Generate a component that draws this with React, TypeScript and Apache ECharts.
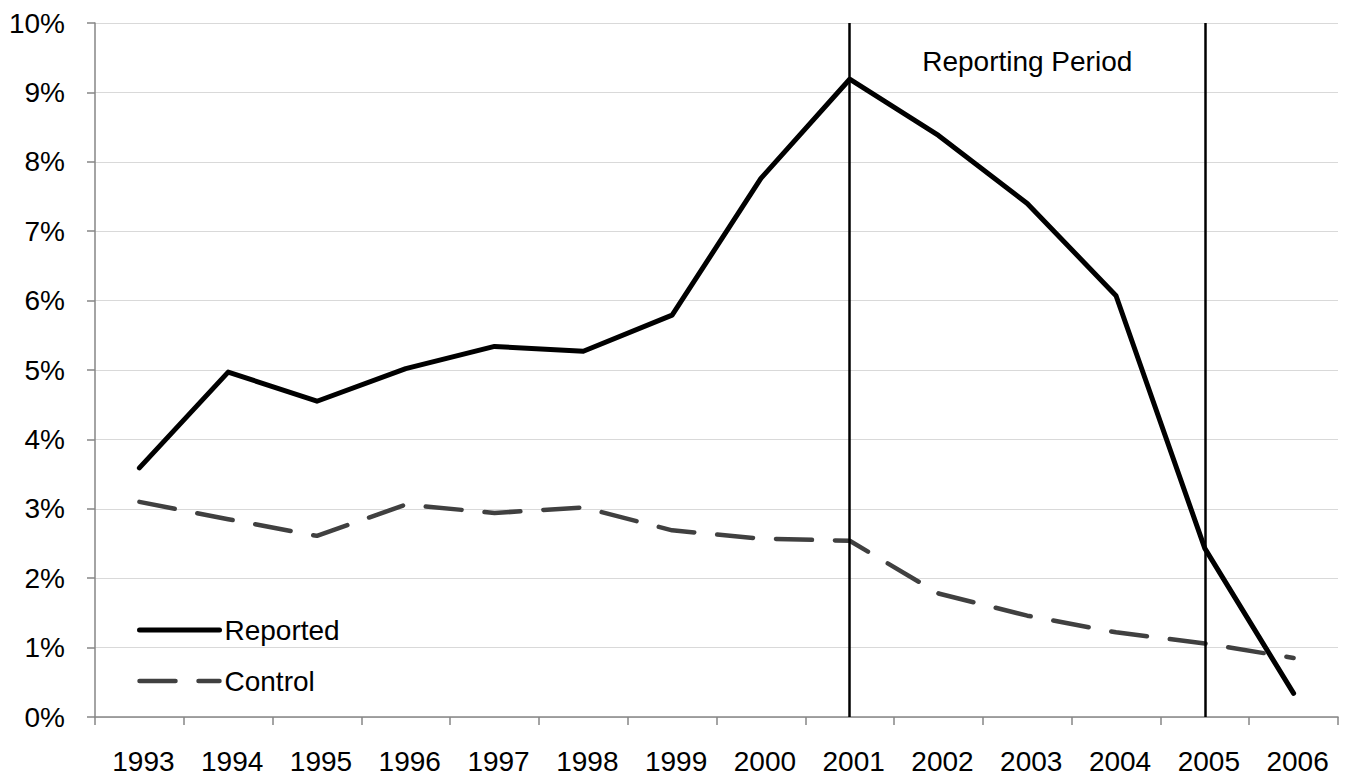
import React, { useEffect, useRef } from "react";
import * as echarts from "echarts";

const years = ["1993", "1994", "1995", "1996", "1997", "1998", "1999", "2000", "2001", "2002", "2003", "2004", "2005", "2006"];
const reported = [3.59, 4.97, 4.55, 5.02, 5.34, 5.27, 5.79, 7.76, 9.19, 8.38, 7.4, 6.07, 2.43, 0.34];
const control = [3.1, 2.85, 2.61, 3.06, 2.94, 3.02, 2.69, 2.57, 2.54, 1.78, 1.46, 1.22, 1.06, 0.85];
const periodStart = "2001";
const periodEnd = "2005";
const periodLabel = "Reporting Period";

export default function App() {
  const ref = useRef<HTMLDivElement>(null);
  useEffect(() => {
    if (!ref.current) return;
    const chart = echarts.init(ref.current, null, { renderer: "svg" });
    const font = "'Liberation Sans', Arial, sans-serif";
    chart.setOption({
      animation: false,
      textStyle: { fontFamily: font },
      grid: { left: 95, right: 12, top: 23, bottom: 64, containLabel: false },
      legend: {
        orient: "vertical",
        left: 137,
        top: 616,
        padding: 0,
        itemWidth: 80,
        itemHeight: 14,
        itemGap: 23,
        itemStyle: { opacity: 0, borderWidth: 0 },
        lineStyle: { width: 5, cap: "round" },
        textStyle: { fontSize: 28, color: "#000", fontFamily: font },
        data: [
          { name: "Reported", lineStyle: { width: 5, cap: "round" } },
          { name: "Control", lineStyle: { width: 4.5, cap: "round" } },
        ],
      },
      xAxis: {
        type: "category",
        data: years,
        boundaryGap: true,
        axisLine: { lineStyle: { color: "#868686", width: 1.5 } },
        axisTick: { show: true, length: 8, lineStyle: { color: "#868686", width: 1.5 } },
        axisLabel: { fontSize: 28, color: "#000", margin: 30, padding: [0, 0, 0, 8], fontFamily: font },
        splitLine: { show: false },
      },
      yAxis: {
        type: "value",
        min: 0,
        max: 10,
        interval: 1,
        axisLine: { show: true, lineStyle: { color: "#868686", width: 1.5 } },
        axisTick: { show: true, length: 8, lineStyle: { color: "#868686", width: 1.5 } },
        axisLabel: { fontSize: 28, color: "#000", margin: 30, formatter: "{value}%", fontFamily: font },
        splitLine: { show: true, lineStyle: { color: "#d9d9d9", width: 1 } },
      },
      series: [
        {
          name: "Reported",
          type: "line",
          data: reported,
          symbol: "none",
          lineStyle: { color: "#000", width: 5, cap: "round", join: "round" },
          itemStyle: { color: "#000" },
          markLine: {
            silent: true,
            symbol: "none",
            label: { show: false },
            lineStyle: { color: "#000", type: "solid", width: 2.5 },
            data: [{ xAxis: periodStart }, { xAxis: periodEnd }],
          },
          markArea: {
            silent: true,
            itemStyle: { color: "rgba(0,0,0,0)" },
            label: {
              show: true,
              position: "insideTop",
              distance: 24,
              fontSize: 28,
              color: "#000",
              fontFamily: font,
            },
            data: [[{ xAxis: periodStart, yAxis: 10, name: periodLabel }, { xAxis: periodEnd, yAxis: 0 }]],
          },
        },
        {
          name: "Control",
          type: "line",
          data: control,
          symbol: "none",
          lineStyle: { color: "#404040", width: 4.5, type: [36, 23], cap: "round", join: "round" },
          itemStyle: { color: "#404040" },
        },
      ],
    });
    return () => chart.dispose();
  }, []);
  return <div ref={ref} style={{ position: "fixed", left: 0, top: 0, width: 1350, height: 781, background: "#fff" }} />;
}
